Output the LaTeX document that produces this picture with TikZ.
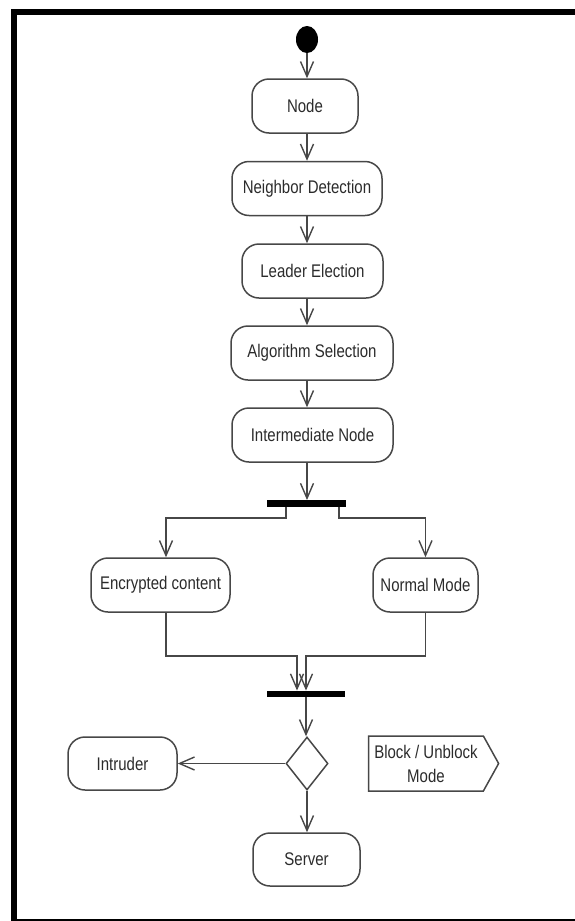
\documentclass[tikz,border=0pt]{standalone}
\usepackage{fontspec}
\setmainfont{Liberation Sans}
\usetikzlibrary{arrows.meta,shapes.geometric,shapes.symbols}
% labels are set slightly taller than wide
\newcommand\tallt[1]{\scalebox{1}[1.22]{#1}}
\definecolor{ink}{HTML}{474747}
\definecolor{txt}{HTML}{2B2B2B}
\begin{document}
\begin{tikzpicture}[x=1pt,y=-1pt,
  act/.style={draw=ink, line width=1.5pt, rounded corners=17pt, minimum height=54pt,
    inner sep=0pt, text=txt, font=\fontsize{15}{17}\selectfont},
  bar/.style={fill=black, draw=none, minimum height=6.5pt, inner sep=0pt},
  flow/.style={draw=ink, line width=1.5pt,
    -{Straight Barb[length=15pt,width=13pt,line width=1.4pt]}}
]
\clip (0,0) rectangle (575,921);
% outer frame
\draw[line width=6pt] (13.5,11.5) rectangle (600,922);

% initial node
\node[ellipse, fill=black, minimum width=22pt, minimum height=27pt, inner sep=0pt] (start) at (307,39.5) {};

% activities
\node[act, minimum width=106pt] (n1) at (305,106) {\tallt{Node}};
\node[act, minimum width=150pt] (n2) at (307,188.5) {\tallt{Neighbor Detection}};
\node[act, minimum width=141pt] (n3) at (312.5,271) {\tallt{Leader Election}};
\node[act, minimum width=162pt] (n4) at (312,353) {\tallt{Algorithm Selection}};
\node[act, minimum width=161pt] (n5) at (312.5,435) {\tallt{Intermediate Node}};
\node[bar, minimum width=79pt] (fork) at (306.5,503.5) {};
\node[act, minimum width=139pt] (enc) at (160.5,585) {\tallt{Encrypted content}};
\node[act, minimum width=105pt] (norm) at (425.5,585) {\tallt{Normal Mode}};
\node[bar, minimum width=78pt] (join) at (306,694) {};
\node[diamond, draw=ink, line width=1.5pt, minimum width=42pt, minimum height=53pt, inner sep=0pt] (dec) at (307,763.5) {};
\node[act, minimum width=109pt, minimum height=53pt] (intr) at (122.5,763.5) {\tallt{Intruder}};
\node[act, minimum width=107pt, minimum height=53pt] (srv) at (306.5,859.5) {\tallt{Server}};
\node[signal, signal to=east, signal pointer angle=122, draw=ink, line width=1.5pt,
  minimum width=130pt, minimum height=55pt, inner sep=0pt, text=txt, align=center,
  font=\fontsize{15}{24}\selectfont] (blk) at (426,763.5) {\tallt{Block / Unblock}\\\tallt{Mode}};

% control flow
\draw[flow] (start.south) -- (start.south |- n1.north);
\draw[flow] (start |- n1.south) -- (start |- n2.north);
\draw[flow] (start |- n2.south) -- (start |- n3.north);
\draw[flow] (start |- n3.south) -- (start |- n4.north);
\draw[flow] (start |- n4.south) -- (start |- n5.north);
\draw[flow] (start |- n5.south) -- (start |- fork.north);
\draw[flow] ([xshift=-20.5pt]fork.south) -- ++(0,11) -| ([xshift=5.5pt]enc.north);
\draw[flow] ([xshift=32.5pt]fork.south) -- ++(0,11) -| (norm.north);
\draw[flow] ([xshift=5.5pt]enc.south) -- ++(0,43) -| ([xshift=-9pt]join.north);
\draw[flow] (norm.south) -- ++(0,43) -| (join.north);
\draw[flow] (join.south) -- (join.south |- dec.north);
\draw[flow] (dec.west) -- (intr.east);
\draw[flow] (dec.south) -- (dec.south |- srv.north);
\end{tikzpicture}
\end{document}
